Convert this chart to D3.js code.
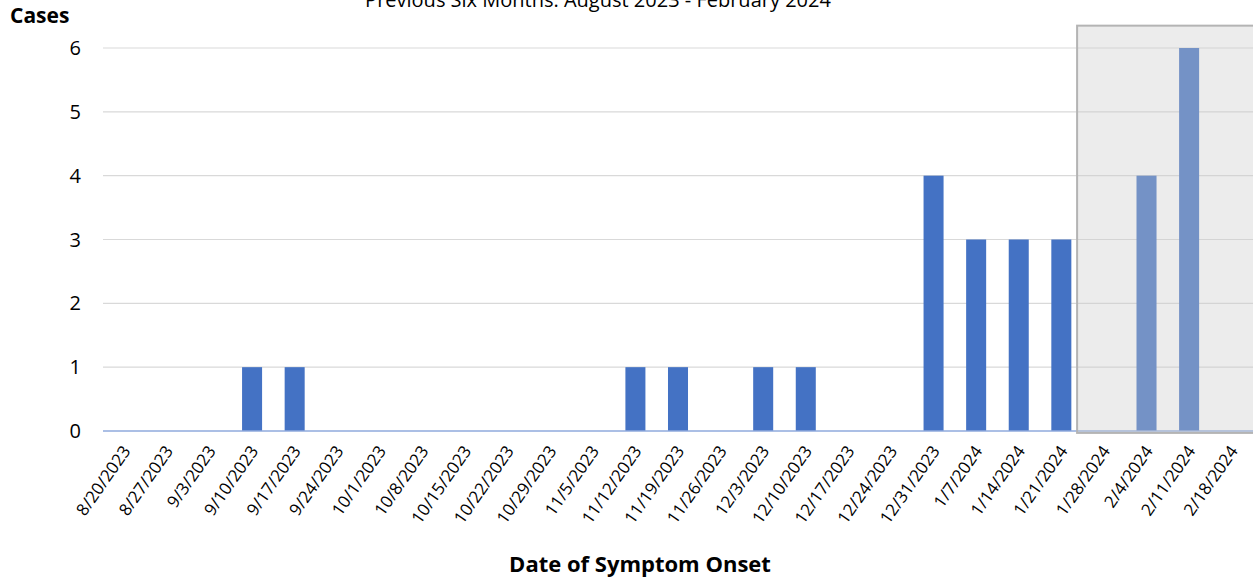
<!DOCTYPE html>
<html>
<head>
<meta charset="utf-8">
<script src="https://cdn.jsdelivr.net/npm/d3@7"></script>
<style>
  body { margin: 0; background: #fff; }
  svg text { font-family: "Open Sans", "Noto Sans", sans-serif; fill: #000; }
</style>
</head>
<body>
<div id="chart"></div>
<script>
(function() {
    "use strict";

    var dates = ["8/20/2023", "8/27/2023", "9/3/2023", "9/10/2023", "9/17/2023", "9/24/2023",
        "10/1/2023", "10/8/2023", "10/15/2023", "10/22/2023", "10/29/2023", "11/5/2023",
        "11/12/2023", "11/19/2023", "11/26/2023", "12/3/2023", "12/10/2023", "12/17/2023",
        "12/24/2023", "12/31/2023", "1/7/2024", "1/14/2024", "1/21/2024", "1/28/2024",
        "2/4/2024", "2/11/2024", "2/18/2024"];
    var cases = [0, 0, 0, 1, 1, 0, 0, 0, 0, 0, 0, 0, 1, 1, 0, 1, 1, 0, 0, 4, 3, 3, 3, 0, 4, 6, 0];
    var yTicks = [0, 1, 2, 3, 4, 5, 6];
    var shadedFrom = "1/28/2024"; // recent weeks, still being reported

    var w = 1253;
    var h = 580;

    var svg = d3.select("#chart").append("svg")
        .attr("width", w)
        .attr("height", h);

    var x = d3.scaleBand()
        .domain(dates)
        .range([103, 1253])
        .paddingInner(0.53)
        .paddingOuter(0.265);
    var y = d3.scaleLinear()
        .domain([0, 6])
        .range([431, 48]);

    // gridlines
    svg.selectAll(".grid")
        .data(yTicks.slice(1))
        .enter()
        .append("line")
            .attr("x1", 103)
            .attr("x2", w)
            .attr("y1", function(d) { return y(d); })
            .attr("y2", function(d) { return y(d); })
            .attr("stroke", "#d9d9d9")
            .attr("stroke-width", 1.2);

    // bars
    svg.selectAll(".bar")
        .data(cases)
        .enter()
        .append("rect")
            .attr("class", "bar")
            .attr("fill", "#4472c4")
            .attr("x", function(d, i) { return x(dates[i]); })
            .attr("y", function(d) { return y(d); })
            .attr("width", x.bandwidth())
            .attr("height", function(d) { return y(0) - y(d); });

    // x axis line
    svg.append("line")
        .attr("x1", 103)
        .attr("x2", w)
        .attr("y1", y(0))
        .attr("y2", y(0))
        .attr("stroke", "#8faadc")
        .attr("stroke-width", 1.5);

    // shaded box over the last weeks
    var step = x.step();
    var boxX = x(shadedFrom) + x.bandwidth() / 2 - step * 0.63;
    svg.append("rect")
        .attr("x", boxX)
        .attr("y", y(6.35))
        .attr("width", w - boxX + 2)
        .attr("height", y(-0.03) - y(6.35))
        .attr("fill", "#cbcbcb")
        .attr("fill-opacity", 0.36)
        .attr("stroke", "#b4b4b4")
        .attr("stroke-width", 2);

    // y tick labels
    svg.selectAll(".ytick")
        .data(yTicks)
        .enter()
        .append("text")
            .attr("x", 81)
            .attr("y", function(d) { return y(d); })
            .attr("dy", "0.35em")
            .attr("text-anchor", "end")
            .style("font-size", "20px")
            .text(function(d) { return d; });

    // x tick labels
    svg.selectAll(".xtick")
        .data(dates)
        .enter()
        .append("text")
            .attr("text-anchor", "end")
            .attr("transform", function(d) {
                return "translate(" + (x(d) + x.bandwidth() / 2 + 7) + "," + 451 + ") rotate(-55)";
            })
            .style("font-size", "17px")
            .text(function(d) { return d; });

    svg.append("text")
        .attr("x", 10)
        .attr("y", 23)
        .style("font-size", "21px")
        .style("font-weight", "bold")
        .text("Cases");

    svg.append("text")
        .attr("x", 598)
        .attr("y", 7)
        .attr("text-anchor", "middle")
        .style("font-size", "20px")
        .text("Previous Six Months: August 2023 - February 2024");

    svg.append("text")
        .attr("x", 640)
        .attr("y", 572)
        .attr("text-anchor", "middle")
        .style("font-size", "22px")
        .style("font-weight", "bold")
        .text("Date of Symptom Onset");
})();
</script>
</body>
</html>
